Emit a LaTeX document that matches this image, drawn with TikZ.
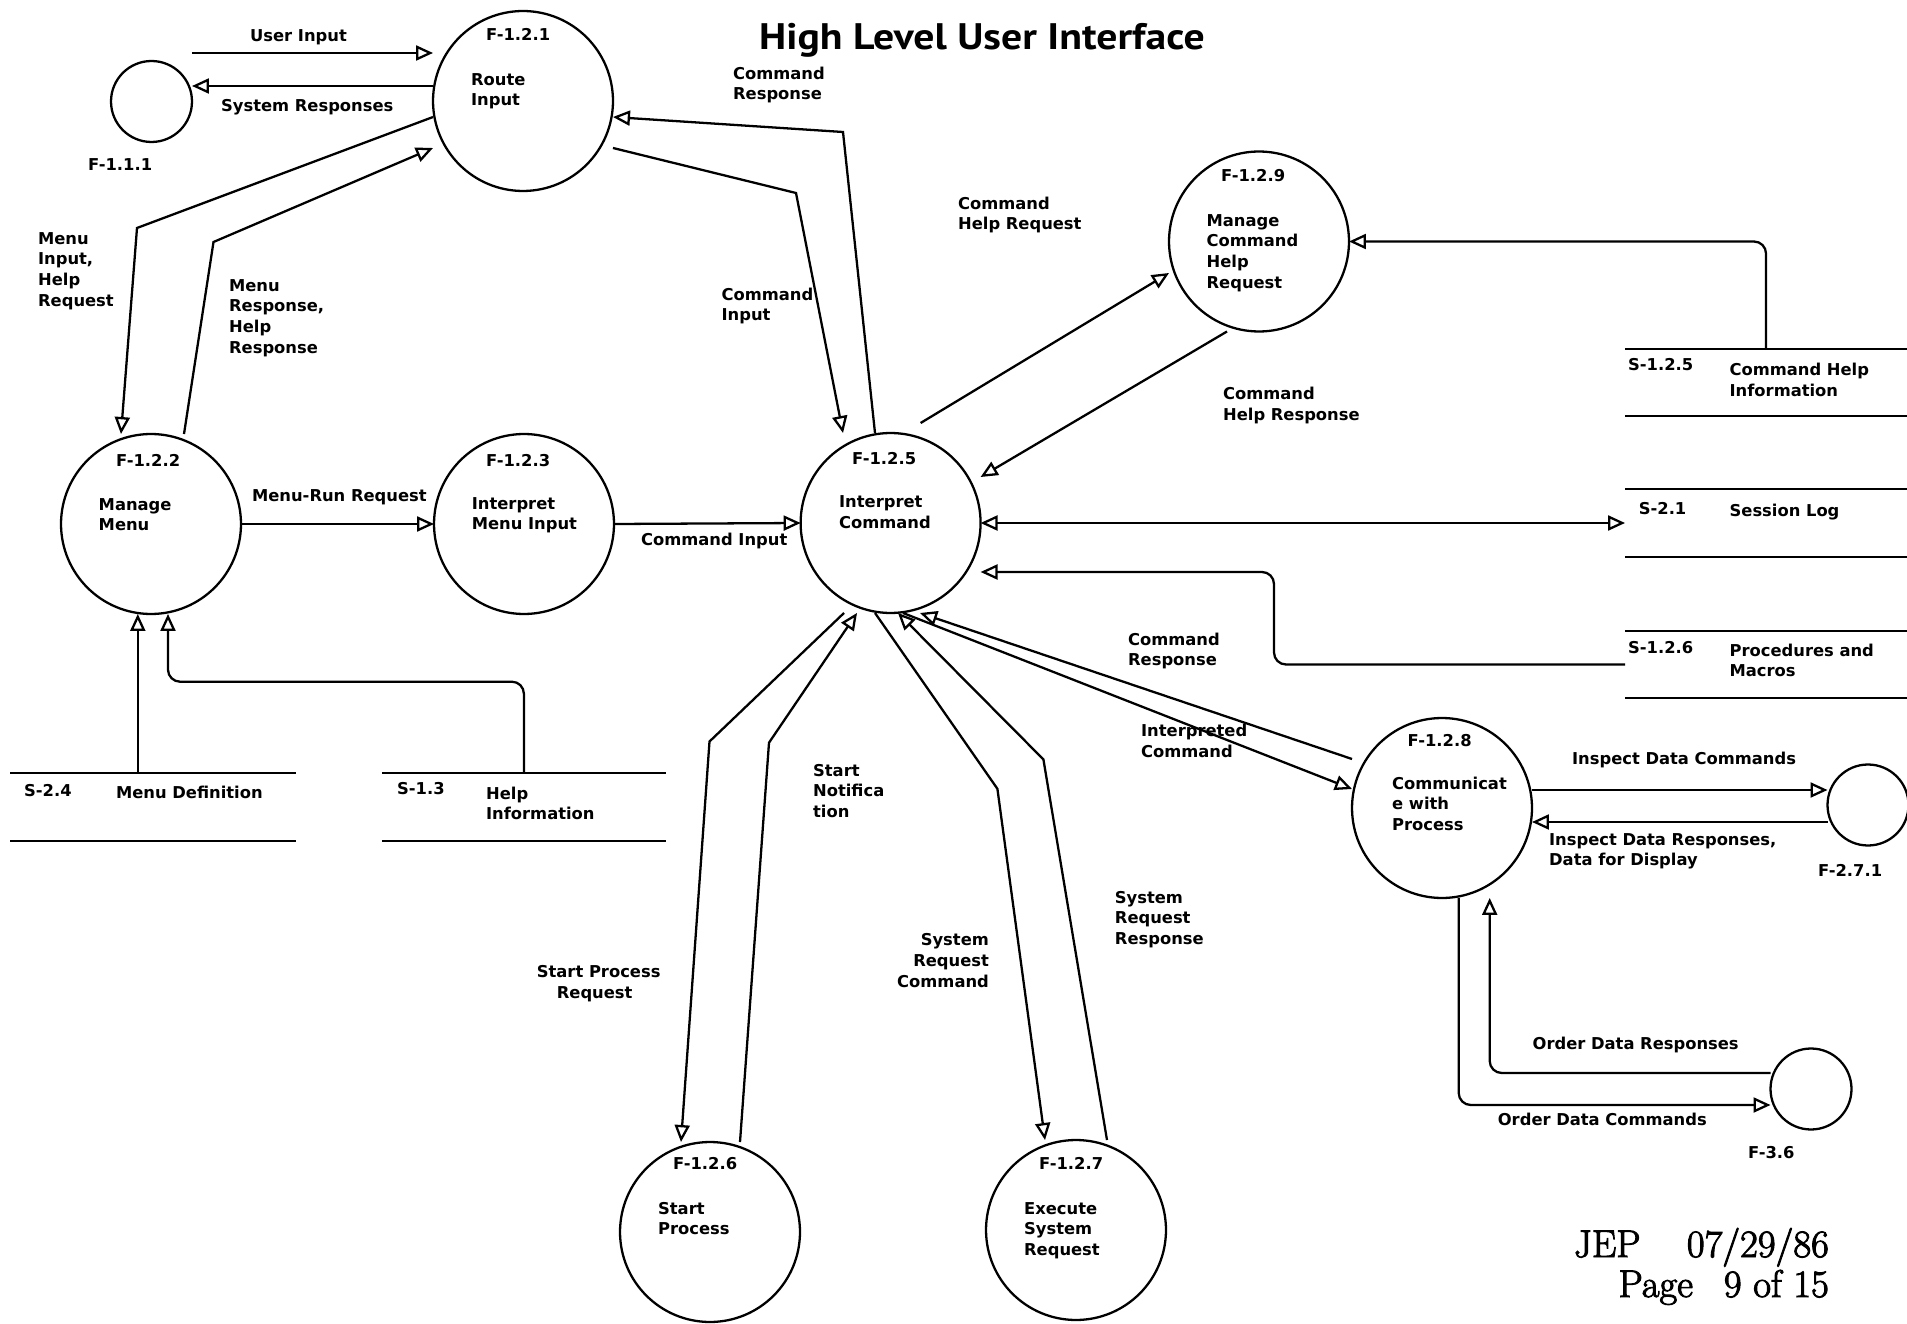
\documentclass[tikz,border=0pt]{standalone}
\usepackage{fontspec}
\newfontfamily\plotfont{DejaVu Sans}
\newfontfamily\headfont{PT Sans}
\newfontfamily\footfont{Latin Modern Roman}[FakeBold=2.5]
\usetikzlibrary{arrows.meta}
\begin{document}
\begin{tikzpicture}[x=0.02cm, y=-0.02cm,
  line width=1.3pt,
  proc/.style={circle, draw, minimum size=3.6cm, inner sep=0pt, outer sep=0pt},
  term/.style={circle, draw, minimum size=1.62cm, inner sep=0pt, outer sep=0pt},
  store/.style={rectangle, inner sep=0pt, outer sep=0pt},
  lbl/.style={font=\plotfont\bfseries\fontsize{9.3}{11.8}\selectfont, align=left, anchor=base west, inner sep=0pt},
  lblr/.style={lbl, align=right, anchor=base east},
  foot/.style={font=\footfont\fontsize{22}{26}\selectfont, anchor=base east, inner sep=0pt},
  otri/.tip={Triangle[open, length=3.4mm, width=3mm]},
  flow/.style={-otri},
  dflow/.style={otri-otri},
  rnd/.style={rounded corners=2.4mm}
]
\fill[white] (0,0) rectangle (1907,1324);
\useasboundingbox (0,0) rectangle (1907,1324);

% title and page footer (multi-line labels below are placed by the baseline of their last line)
\node[font=\headfont\bfseries\fontsize{21}{25}\selectfont, anchor=base, inner sep=0pt] (title) at (982,50) {\scalebox{1.13}[1]{High Level User Interface}};
\node[foot] (jep) at (1830,1257) {JEP\hspace{1.2em}07/29/86};
\node[foot] (page) at (1830,1297) {Page\hspace{0.8em}9 of 15};

% processes
\node[term] (A) at (151.5,101.5) {};
\node[proc] (B) at (523,101) {};
\node[proc] (C) at (151,524) {};
\node[proc] (D) at (524,524) {};
\node[proc] (E) at (890.6,523) {};
\node[proc] (G) at (1259,241.5) {};
\node[proc] (H) at (1442,808) {};
\node[proc] (P6) at (710,1232) {};
\node[proc] (P7) at (1076,1230) {};
\node[term] (F271) at (1868,805) {};
\node[term] (F36) at (1811,1089) {};

% data stores
\node[store, minimum width=5.712cm, minimum height=1.36cm] (S24) at (152.8,806.7) {};
\node[store, minimum width=5.686cm, minimum height=1.36cm] (S13) at (523.9,806.7) {};
\node[store, minimum width=5.64cm, minimum height=1.34cm] (S125) at (1766,382.5) {};
\node[store, minimum width=5.64cm, minimum height=1.36cm] (S21) at (1766,523) {};
\node[store, minimum width=5.64cm, minimum height=1.34cm] (S126) at (1766,664.5) {};
\foreach \s in {S24,S13,S125,S21,S126}
  \draw (\s.north west) -- (\s.north east) (\s.south west) -- (\s.south east);

% process texts
\node[lbl] (lA) at (87,171) {F-1.1.1};
\node[lbl] (lB) at (485,41) {F-1.2.1};
\node[lbl] (tB) at (470,105.8) {Route\\Input};
\node[lbl] (lC) at (115,466) {F-1.2.2};
\node[lbl] (tC) at (97.6,530.8) {Manage\\Menu};
\node[lbl] (lD) at (485,466) {F-1.2.3};
\node[lbl] (tD) at (470.7,529.8) {Interpret\\Menu Input};
\node[lbl] (lE) at (851,464) {F-1.2.5};
\node[lbl] (tE) at (838,528.5) {Interpret\\Command};
\node[lbl] (lG) at (1220,181.5) {F-1.2.9};
\node[lbl] (tG) at (1205.5,288.4) {Manage\\Command\\Help\\Request};
\node[lbl] (lH) at (1406.5,746) {F-1.2.8};
\node[lbl] (tH) at (1391,830.6) {Communicat\\e with\\Process};
\node[lbl] (lP6) at (672,1169.8) {F-1.2.6};
\node[lbl] (tP6) at (657,1234.8) {Start\\Process};
\node[lbl] (lP7) at (1038,1169.8) {F-1.2.7};
\node[lbl] (tP7) at (1023,1255.6) {Execute\\System\\Request};
\node[lbl] (lF271) at (1817,876) {F-2.7.1};
\node[lbl] (lF36) at (1747,1158) {F-3.6};

% store texts
\node[lbl] (iS24) at (23,796) {S-2.4};
\node[lbl] (nS24) at (115,798.7) {Menu Definition};
\node[lbl] (iS13) at (396,794) {S-1.3};
\node[lbl] (nS13) at (485,819.8) {Help\\Information};
\node[lbl] (iS125) at (1627,371) {S-1.2.5};
\node[lbl] (nS125) at (1728.5,396.3) {Command Help\\Information};
\node[lbl] (iS21) at (1637.7,514.5) {S-2.1};
\node[lbl] (nS21) at (1728.5,516) {Session Log};
\node[lbl] (iS126) at (1627,653) {S-1.2.6};
\node[lbl] (nS126) at (1728.5,676.8) {Procedures and\\Macros};

% flows between the user and the router
\coordinate (ui) at ([shift={(0,-48)}]B.west);
\draw[flow] (ui -| A.east) -- (ui);
\coordinate (sr) at ([shift={(0,-15)}]B.west);
\draw[flow] (sr) -- (sr -| A.east);
\node[lbl] (fUI) at (249,42) {User Input};
\node[lbl] (fSR) at (220,112) {System Responses};

% router <-> menu manager
\coordinate (mi) at (137,228);
\draw[flow] ([shift={(0,16)}]B.west) -- (mi) -- ([shift={(-30,0)}]C.north);
\coordinate (mr) at (213.5,242);
\draw[flow] ([shift={(33,0)}]C.north) -- (mr) -- ([shift={(0,47)}]B.west);
\node[lbl] (fMI) at (37,306.4) {Menu\\Input,\\Help\\Request};
\node[lbl] (fMR) at (228,353.4) {Menu\\Response,\\Help\\Response};

% router <-> command interpreter
\coordinate (cr) at (843,132);
\draw[flow] ([shift={(-15.6,0)}]E.north) -- (cr) -- ([shift={(0,16)}]B.east);
\coordinate (ci) at (796,193);
\draw[flow] ([shift={(0,47)}]B.east) -- (ci) -- ([shift={(-47.6,0)}]E.north);
\node[lbl] (fCR) at (732,99.8) {Command\\Response};
\node[lbl] (fCI) at (720.5,320.8) {Command\\Input};

% menu chain
\draw[flow] (C.east) -- (D.west);
\draw[flow] (D.east) -- (E.west);
\node[lbl] (fMRR) at (251,501) {Menu-Run Request};
\node[lbl] (fCI2) at (640,545) {Command Input};

% stores feeding the menu manager
\coordinate (md) at ([shift={(-13.2,0)}]C.south);
\draw[flow] (md |- S24.north) -- (md);
\coordinate (hi) at ([shift={(17,0)}]C.south);
\coordinate (hb) at (168,681.7);
\draw[flow, rnd] (S13.north) |- (hb) -- (hi);

% command help
\draw[flow] ([shift={(30,-10)}]E.north) -- ([shift={(0,31.5)}]G.west);
\draw[flow] ([shift={(-32,0)}]G.south) -- ([shift={(0,-46)}]E.east);
\draw[flow, rnd] (S125.north) |- (G.east);
\node[lbl] (fCHQ) at (957,229.8) {Command\\Help Request};
\node[lbl] (fCHR) at (1222,420.4) {Command\\Help Response};

% session log and procedures
\draw[dflow] (E.east) -- (S21.west);
\coordinate (pm) at (1274,572);
\draw[flow, rnd] (S126.west) -| (pm) -- (pm -| E.east);

% start process
\coordinate (sp) at (709.5,741.5);
\draw[flow] ([shift={(-46.6,0)}]E.south) -- (sp) -- ([shift={(-29,0)}]P6.north);
\coordinate (sn) at (769,742.7);
\draw[flow] ([shift={(30,0)}]P6.north) -- (sn) -- ([shift={(-33.6,0)}]E.south);
\node[lbl] (fSPR) at (535.7,998.3) {Start Process\\\hspace*{4mm}Request};
\node[lbl] (fSN) at (812,817.6) {Start\\Notifica\\tion};

% system requests
\coordinate (sc) at (997.4,788.8);
\draw[flow] ([shift={(-15.6,0)}]E.south) -- (sc) -- ([shift={(-31,0)}]P7.north);
\coordinate (sq) at (1043.4,759.4);
\draw[flow] ([shift={(31,0)}]P7.north) -- (sq) -- ([shift={(7.4,0)}]E.south);
\node[lblr] (fSRC) at (990,987.3) {System\\Request\\Command};
\node[lbl] (fSRR) at (1113.8,944.6) {System\\Request\\Response};

% process communication
\draw[flow] ([shift={(12.4,0)}]E.south) -- ([shift={(0,-19)}]H.west);
\draw[flow] ([shift={(0,-49)}]H.west) -- ([shift={(29.4,0)}]E.south);
\node[lbl] (fCR2) at (1127,665.8) {Command\\Response};
\node[lbl] (fIC) at (1140,757.5) {Interpreted\\Command};

\draw[flow] ([shift={(0,-18)}]H.east) -- ([shift={(0,-15)}]F271.west);
\draw[flow] ([shift={(0,17)}]F271.west) -- ([shift={(0,14)}]H.east);
\node[lbl] (fIDC) at (1571,764) {Inspect Data Commands};
\node[lbl] (fIDR) at (1548,865.8) {Inspect Data Responses,\\Data for Display};

\draw[flow, rnd] ([shift={(16.7,0)}]H.south) |- ([shift={(0,16)}]F36.west);
\draw[flow, rnd] ([shift={(0,-16)}]F36.west) -| ([shift={(47.7,0)}]H.south);
\node[lbl] (fODR) at (1531.5,1049) {Order Data Responses};
\node[lbl] (fODC) at (1496.7,1125) {Order Data Commands};
\end{tikzpicture}
\end{document}
